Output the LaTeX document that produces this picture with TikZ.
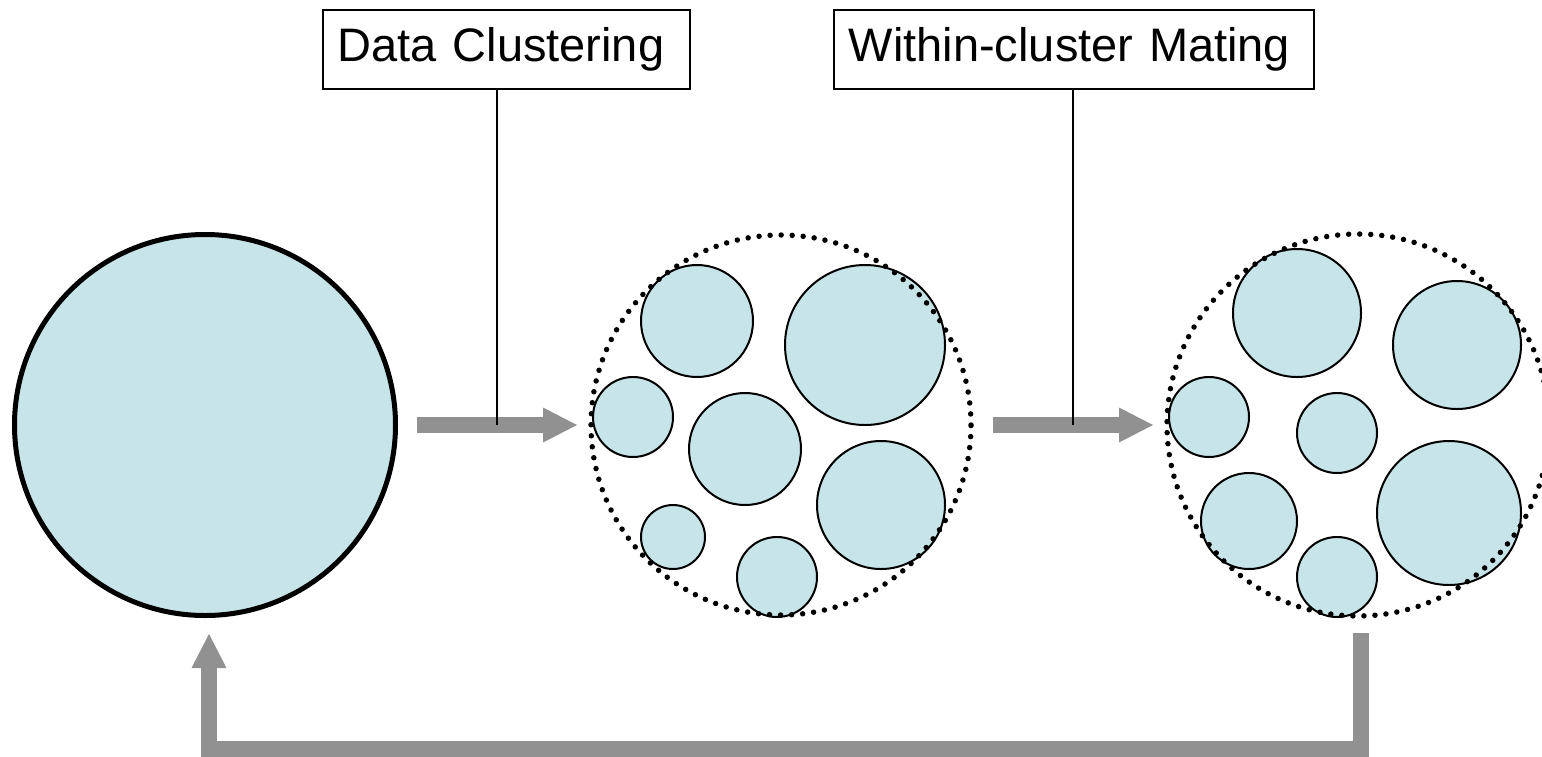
\documentclass[tikz,border=0pt]{standalone}
\usepackage{fontspec}
\setmainfont{Liberation Sans}
\usetikzlibrary{arrows.meta}
\definecolor{cellfill}{RGB}{199,229,232}
\definecolor{flowgray}{RGB}{145,145,145}
\tikzset{
  population/.style={circle, draw=black, line width=5pt, fill=cellfill, outer sep=0pt, inner sep=0pt},
  cell/.style={circle, draw=black, line width=2pt, fill=cellfill, outer sep=0pt, inner sep=0pt},
  clusterring/.style={circle, draw=black, line width=5.5pt, line cap=round,
    dash pattern=on 0pt off 11.05pt, outer sep=0pt, inner sep=0pt},
  labelbox/.style={draw=black, line width=1.5pt, fill=white, anchor=north west,
    minimum height=79pt, inner xsep=15pt, inner ysep=0pt, align=left,
    font=\fontsize{47}{56}\selectfont},
  flow/.style={draw=flowgray, line width=16pt,
    -{Triangle[length=34pt, width=35pt, line width=0pt, fill=flowgray]}},
  leader/.style={draw=black, line width=1.5pt}
}
\begin{document}
\begin{tikzpicture}[x=1pt, y=-1pt]
\useasboundingbox (0,0) rectangle (1542,756);

% whole population
\node[population, minimum size=381pt] (big) at (205,425) {};

% clustered population: sub-clusters
\node[cell, minimum size=112pt] (a1) at (697,321) {};
\node[cell, minimum size=160pt] (a2) at (865,345) {};
\node[cell, minimum size=80pt]  (a3) at (633,417) {};
\node[cell, minimum size=112pt] (a4) at (745,449) {};
\node[cell, minimum size=128pt] (a5) at (881,505) {};
\node[cell, minimum size=64pt]  (a6) at (673,537) {};
\node[cell, minimum size=80pt]  (a7) at (777,577) {};
\node[clusterring, minimum size=380pt] (cl1) at (781,425) {};

% population after mating inside each cluster
\node[cell, minimum size=128pt] (b1) at (1297,313) {};
\node[cell, minimum size=128pt] (b2) at (1457,345) {};
\node[cell, minimum size=80pt]  (b3) at (1209,417) {};
\node[cell, minimum size=80pt]  (b4) at (1337,433) {};
\node[cell, minimum size=96pt]  (b5) at (1249,521) {};
\node[cell, minimum size=80pt]  (b6) at (1337,577) {};
\node[cell, minimum size=144pt] (b7) at (1449,513) {};
\node[clusterring, minimum size=382pt] (cl2) at (1358,425) {};

% step arrows
\draw[flow, shorten <=21.5pt, shorten >=14pt] (big.east) -- (cl1.west);
\draw[flow, shorten <=22pt, shorten >=14pt] (cl1.east) -- (cl2.west);

% feedback loop back to the population
\coordinate (ret) at (1361,633);
\draw[flow, shorten >=18.5pt] (ret) |- ([xshift=4pt]big.south |- 0,749) -- ([xshift=4pt]big.south);

% step labels with leader lines
\node[labelbox, text width=337pt] (lab1) at (322,9) {Data Clustering};
\node[labelbox, text width=450pt] (lab2) at (833,9) {Within-cluster Mating};
\coordinate (p1) at (497,425);
\coordinate (p2) at (1073,425);
\draw[leader] (p1) -- (p1 |- lab1.south);
\draw[leader] (p2) -- (p2 |- lab2.south);
\end{tikzpicture}
\end{document}
